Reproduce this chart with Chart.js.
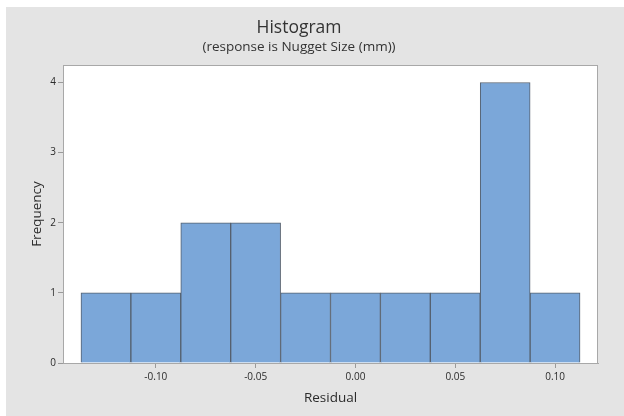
<!DOCTYPE html>
<html>
<head>
<meta charset="utf-8">
<script src="https://cdn.jsdelivr.net/npm/chart.js@4"></script>
<style>
  html, body { margin: 0; padding: 0; background: #fff; }
  #wrap { width: 624px; height: 416px; }
</style>
</head>
<body>
<div id="wrap"><canvas id="hist" width="624" height="416"></canvas></div>
<script>
// bin midpoints (bin width 0.025) and counts
const binCenters = [-0.125, -0.1, -0.075, -0.05, -0.025, 0, 0.025, 0.05, 0.075, 0.1];
const frequencies = [1, 1, 2, 2, 1, 1, 1, 1, 4, 1];
const xTickValues = [-0.10, -0.05, 0.00, 0.05, 0.10];
const yTickValues = [0, 1, 2, 3, 4];

const FONT = "'Open Sans', 'Noto Sans', sans-serif";

// grey frame + white plot area with border
const frame = {
    id: 'frame',
    beforeDraw(chart) {
        const { ctx, chartArea: a } = chart;
        ctx.save();
        ctx.fillStyle = '#e4e4e4';
        ctx.fillRect(6, 7, chart.width - 6, chart.height - 7);
        ctx.fillStyle = '#ffffff';
        ctx.fillRect(a.left, a.top, a.right - a.left, a.bottom - a.top);
        ctx.restore();
    },
    afterDraw(chart) {
        const { ctx, chartArea: a } = chart;
        ctx.save();
        ctx.strokeStyle = '#a8a8a8';
        ctx.lineWidth = 1;
        ctx.strokeRect(a.left + 0.5, a.top + 0.5, a.right - a.left - 1, a.bottom - a.top);
        ctx.restore();
    }
};

new Chart(document.getElementById('hist'), {
    type: 'bar',
    data: {
        datasets: [{
            data: binCenters.map((x, i) => ({ x, y: frequencies[i] })),
            backgroundColor: '#7ba7d9',
            borderColor: '#55606e',
            borderWidth: 1,
            barPercentage: 1,
            categoryPercentage: 1
        }]
    },
    options: {
        responsive: false,
        animation: false,
        layout: { padding: { left: 0, right: 26, top: 0, bottom: 0 } },
        plugins: {
            legend: { display: false },
            tooltip: { enabled: false },
            title: {
                display: true,
                text: 'Histogram',
                color: '#333',
                font: { family: FONT, size: 17.5, weight: 'normal', lineHeight: 1.2 },
                padding: { top: 17.5, bottom: 0 }
            },
            subtitle: {
                display: true,
                text: '(response is Nugget Size (mm))',
                color: '#333',
                font: { family: FONT, size: 13.5, weight: 'normal', lineHeight: 1.2 },
                padding: { top: 0.4, bottom: 9.9 }
            }
        },
        scales: {
            x: {
                type: 'linear',
                offset: false,
                min: -0.1465,
                max: 0.1215,
                afterFit: s => { s.height = 53; },
                afterBuildTicks: s => { s.ticks = xTickValues.map(v => ({ value: v })); },
                ticks: {
                    color: '#2b2b2b',
                    font: { family: FONT, size: 10 },
                    padding: 3,
                    maxRotation: 0,
                    callback: v => v.toFixed(2)
                },
                grid: { offset: false, drawOnChartArea: false, tickLength: 5, color: '#9a9a9a' },
                border: { color: '#a8a8a8' },
                title: {
                    display: true,
                    text: 'Residual',
                    color: '#2b2b2b',
                    font: { family: FONT, size: 13.5 },
                    padding: { top: 0, bottom: 9.9 }
                }
            },
            y: {
                min: 0,
                max: 4.25,
                afterFit: s => { s.width = 63; },
                afterBuildTicks: s => { s.ticks = yTickValues.map(v => ({ value: v })); },
                ticks: {
                    color: '#2b2b2b',
                    font: { family: FONT, size: 10 },
                    padding: 2,
                    callback: v => String(v)
                },
                grid: { drawOnChartArea: false, tickLength: 5, color: '#9a9a9a' },
                border: { color: '#a8a8a8' },
                title: {
                    display: true,
                    text: 'Frequency',
                    color: '#2b2b2b',
                    font: { family: FONT, size: 13.5 },
                    padding: { top: 28.9, bottom: 0 }
                }
            }
        }
    },
    plugins: [frame]
});
</script>
</body>
</html>
